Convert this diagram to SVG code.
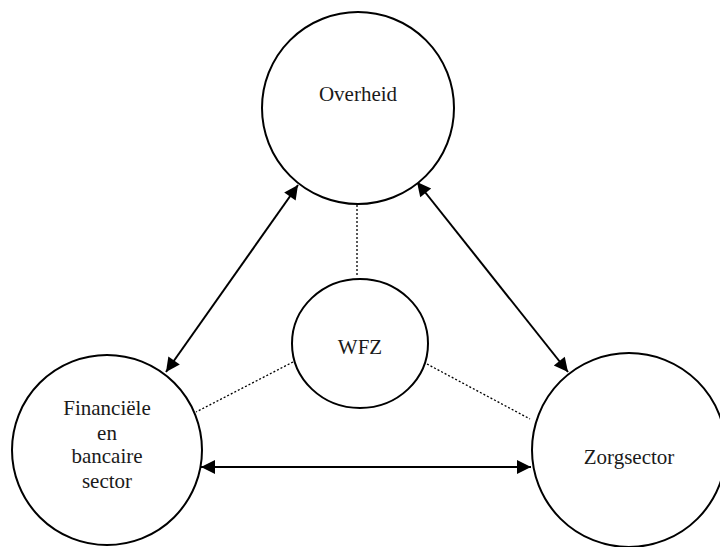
<svg xmlns="http://www.w3.org/2000/svg" width="720" height="547" viewBox="0 0 720 547">
<style>
.node{fill:#fff;stroke:#000;stroke-width:2}
.lbl{font-family:"Liberation Serif","Times New Roman",serif;font-size:21px;fill:#1a1a1a;text-anchor:middle}
.arr{stroke:#000;stroke-width:2;fill:none;marker-start:url(#ah);marker-end:url(#ah)}
.dot{stroke:#000;stroke-width:1.3;stroke-dasharray:2 2;fill:none}
</style>
<defs>
<marker id="ah" viewBox="0 0 10 10" refX="10" refY="5" markerWidth="8" markerHeight="7" markerUnits="strokeWidth" orient="auto-start-reverse">
<path d="M0,0 L10,5 L0,10 z" fill="#000"/>
</marker>
</defs>
<rect width="720" height="547" fill="#fff"/>
<g id="connectors">
<line class="dot" x1="357" y1="205" x2="357" y2="277"/>
<line class="dot" x1="293" y1="362" x2="196" y2="412"/>
<line class="dot" x1="427" y1="364" x2="530" y2="419"/>
<line class="arr" x1="298" y1="185" x2="166" y2="372"/>
<line class="arr" x1="417" y1="182" x2="568" y2="372"/>
<line class="arr" x1="201" y1="467" x2="531" y2="467"/>
</g>
<g id="overheid">
<circle class="node" cx="358" cy="108" r="96"/>
<text class="lbl" x="358" y="101">Overheid</text>
</g>
<g id="wfz">
<ellipse class="node" cx="360" cy="343.5" rx="68" ry="64.5"/>
<text class="lbl" x="360" y="354">WFZ</text>
</g>
<g id="financiele">
<circle class="node" cx="107" cy="450" r="95"/>
<text class="lbl" x="107" y="415">Financiële</text>
<text class="lbl" x="107" y="440">en</text>
<text class="lbl" x="107" y="463">bancaire</text>
<text class="lbl" x="107" y="488">sector</text>
</g>
<g id="zorgsector">
<circle class="node" cx="629" cy="450" r="97"/>
<text class="lbl" x="629" y="464">Zorgsector</text>
</g>
</svg>
